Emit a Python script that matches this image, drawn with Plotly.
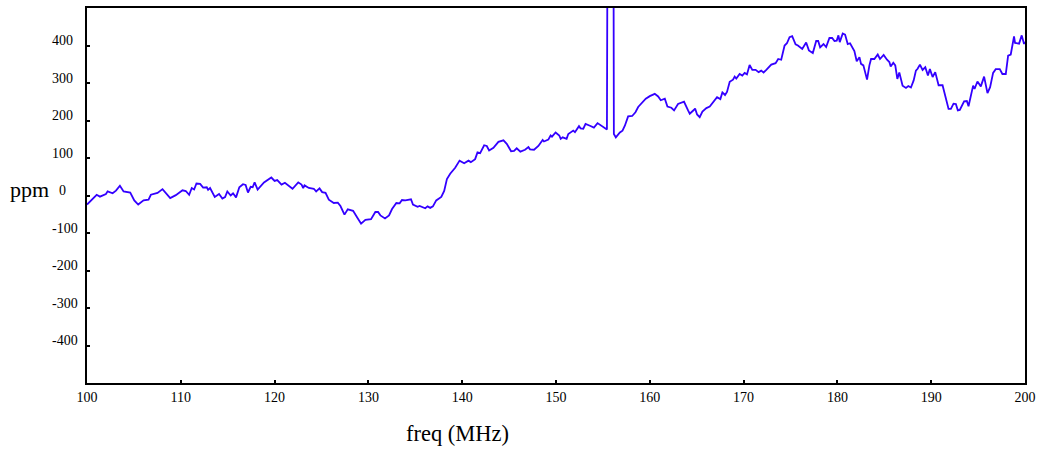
import plotly.graph_objs as go

### Values ###
freq = [100, 100.43, 101.03, 101.38, 102.02, 102.2, 102.73, 103.09, 103.51, 103.9, 104.61, 105.04, 105.46, 106.03,
        106.56, 106.81, 107.52, 108.05, 108.4, 108.87, 109.47, 110.18, 110.53, 110.89, 111.17, 111.42, 111.67, 112.06,
        112.38, 112.77, 112.91, 113.12, 113.62, 114.08, 114.43, 114.72, 114.96, 115.32, 115.57, 115.89, 116.24, 116.63,
        116.91, 117.16, 117.45, 117.66, 117.87, 118.19, 118.87, 119.65, 120.0, 120.28, 120.74, 121.1, 121.91, 122.52,
        122.87, 123.05, 123.19, 123.65, 124.18, 124.43, 124.79, 125.07, 125.43, 125.78, 126.31, 126.74,
        127.02, 127.45, 127.8, 128.37, 128.79, 129.22, 129.68, 130.28, 130.74, 131.03, 131.28, 131.77, 132.2, 132.52,
        132.98, 133.33, 133.58, 133.94, 134.54, 134.75, 135.25, 135.46, 136.06, 136.31, 136.59, 136.88, 137.23, 137.77,
        138.08, 138.37, 138.72, 139.25, 139.72, 140.21, 140.67, 140.92, 141.38, 141.63, 141.91, 142.34, 142.62, 142.87,
        143.33, 143.86, 144.4, 144.75, 145.21, 145.53, 145.81, 146.2, 146.7, 147.06, 147.23, 147.66, 148.12, 148.47,
        148.58, 148.72, 149.18, 149.43, 149.57, 149.96, 150.35, 150.5, 150.71, 151.13, 151.31, 151.84, 152.02, 152.45,
        152.62, 152.91, 153.15, 153.62, 154.04, 154.43, 155.03, 155.43, 155.5, 156.12, 156.17, 156.38, 156.81, 157.09,
        157.34, 157.69, 158.12, 158.47, 158.76, 159.11, 159.57, 160.0, 160.53, 160.89, 161.17, 161.6, 161.88, 162.3,
        162.59, 163.01, 163.65, 164.08, 164.26, 164.69, 164.83, 165.04, 165.32, 165.61, 166.03, 166.39, 166.81, 167.17,
        167.52, 167.74, 168.02, 168.23, 168.52, 168.87, 169.05, 169.22, 169.58, 169.86, 170.11, 170.36, 170.64, 170.93,
        171.28, 171.6, 171.88, 172.13, 172.42, 172.95, 173.41, 173.69, 174.01, 174.37, 174.62, 174.9, 175.18, 175.54,
        175.79, 175.96, 176.25, 176.67, 176.96, 177.38, 177.74, 177.95, 178.16, 178.52, 178.8, 179.15, 179.44, 179.69,
        179.93, 180.11, 180.25, 180.57, 180.82, 181.1, 181.35, 181.81, 182.06, 182.35, 182.52, 182.77, 183.16, 183.41,
        183.59, 183.94, 184.3, 184.54, 184.93, 185.29, 185.54, 185.68, 185.96, 186.17, 186.39, 186.6, 186.95, 187.31,
        187.56, 187.84, 188.13, 188.37, 188.55, 188.8, 189.08, 189.37, 189.65, 189.86, 190.15, 190.43, 190.79, 191.21,
        191.57, 191.85, 192.1, 192.38, 192.63, 192.84, 193.05, 193.51, 193.8, 193.98, 194.47, 194.62, 194.93, 195.29,
        195.64, 196.0, 196.28, 196.6, 196.88, 197.31, 197.59, 197.95, 198.2, 198.48, 198.83, 198.94, 199.37, 199.65,
        199.9, 200]

ppm = [-24, -12, 2, -3, 4, 11, 6, 13, 26, 11, 8, -13, -24, -13,
       -11, 2, 7, 17, 6, -7, 1, 14, 12, 2, 20, 16, 32, 31,
       21, 22, 15, 20, -4, 4, -8, -4, 11, 0, 6, -5, 22, 30,
       28, 8, 23, 22, 35, 16, 35, 48, 39, 41, 29, 34, 18, 35,
       29, 20, 27, 20, 18, 11, 19, 9, 7, -11, -20, -19,
       -28, -51, -37, -41, -58, -75, -65, -63, -44, -44, -53, -61, -53, -36,
       -20, -21, -12, -13, -10, -24, -30, -28, -34, -29, -33, -29, -13, -4,
       12, 44, 58, 74, 93, 86, 93, 89, 97, 115, 113, 134, 132, 120,
       127, 143, 147, 138, 118, 119, 126, 117, 122, 129, 123, 122, 132, 142,
       148, 144, 149, 160, 157, 168, 160, 151, 155, 151, 164, 173, 169, 185,
       179, 178, 191, 186, 181, 193, 182, 176, 800, 800, 164, 155, 168, 173,
       186, 211, 212, 222, 236, 246, 258, 265, 271, 264, 254, 258, 237, 234,
       227, 244, 250, 227, 218, 228, 232, 216, 209, 224, 233, 237, 249, 262,
       257, 275, 268, 276, 303, 309, 317, 312, 324, 320, 327, 323, 348, 335,
       335, 329, 333, 328, 335, 349, 353, 364, 362, 400, 406, 422, 425, 403,
       400, 397, 391, 408, 387, 380, 412, 412, 395, 404, 396, 420, 420, 412,
       413, 427, 409, 432, 429, 404, 406, 385, 358, 369, 351, 347, 309, 347,
       364, 364, 376, 364, 375, 362, 356, 344, 354, 347, 311, 328, 293, 287,
       292, 288, 307, 333, 338, 349, 335, 342, 320, 337, 316, 329, 294, 294,
       260, 231, 231, 245, 244, 227, 228, 251, 252, 238, 293, 284, 304, 291,
       317, 273, 289, 327, 337, 337, 324, 324, 373, 376, 424, 407, 405, 427,
       404, 410]

xTicks = [100, 110, 120, 130, 140, 150, 160, 170, 180, 190, 200]
yTicks = [400, 300, 200, 100, 0, -100, -200, -300, -400]

fontName  = 'Liberation Serif'
lineColor = '#3300FF'

fig = go.Figure()

fig.add_trace(go.Scatter(
    x          = freq,
    y          = ppm,
    mode       = 'lines',
    line_color = lineColor,
    line_width = 1.8,
))

### y tick labels sit a little above their ticks, so they are annotations ###
for t in yTicks:
    fig.add_annotation(x=100, y=t, text=str(t), showarrow=False,
                       xanchor='left', yanchor='middle',
                       xshift=-30 if t == 0 else -37, yshift=5,
                       font=dict(family=fontName, size=14, color='black'))

fig.add_annotation(x=100, y=0, text='ppm', showarrow=False,
                   xanchor='left', yanchor='middle', xshift=-79, yshift=6,
                   font=dict(family=fontName, size=22, color='black'))
fig.add_annotation(xref='paper', yref='paper', x=0.3945, y=-0.095, text='freq (MHz)', showarrow=False,
                   xanchor='center', yanchor='top',
                   font=dict(family=fontName, size=22.5, color='black'))

fig.update_layout(width=1042, height=452,
                  margin=dict(l=87, r=16, t=6, b=69),
                  showlegend=False,
                  paper_bgcolor='white', plot_bgcolor='white',
                  font=dict(family=fontName, size=14, color='black'))

fig.update_xaxes(range=[100, 200], tickvals=xTicks, ticks='inside', ticklen=3, tickwidth=1.5, tickcolor='black',
                 showline=True, linewidth=2, linecolor='black', mirror=True,
                 showgrid=False, zeroline=False, ticklabelstandoff=0)
fig.update_yaxes(range=[-500, 500], tickvals=yTicks, ticks='inside', ticklen=3, tickwidth=1.5, tickcolor='black',
                 showline=True, linewidth=2, linecolor='black', mirror=True,
                 showgrid=False, zeroline=False, showticklabels=False)

# page has a default body margin, drop it so the figure fills the window
fig.write_html("out.html", config=dict(displayModeBar=False),
               post_script="document.body.style.margin = '0';")
